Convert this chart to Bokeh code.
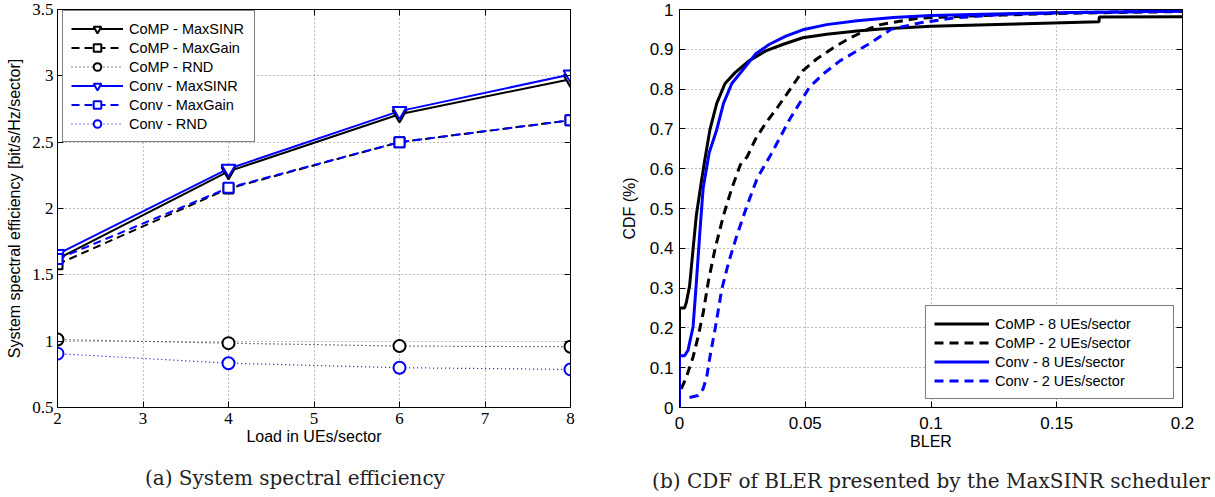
from bokeh.plotting import figure
from bokeh.layouts import row
from bokeh.models import FixedTicker, CustomJSTickFormatter, LinearAxis
from bokeh.embed import file_html
from bokeh.resources import INLINE

# ---------------- data: (a) system spectral efficiency ----------------
loads = [2, 4, 6, 8]
comp_maxsinr = [1.62, 2.28, 2.71, 2.975]
comp_maxgain = [1.58, 2.15, 2.50, 2.665]
comp_rnd = [1.012, 0.985, 0.963, 0.958]
conv_maxsinr = [1.656, 2.30, 2.734, 3.01]
conv_maxgain = [1.619, 2.156, 2.50, 2.665]
conv_rnd = [0.906, 0.834, 0.80, 0.787]
left_xticks = [2, 3, 4, 5, 6, 7, 8]
left_yticks = [0.5, 1, 1.5, 2, 2.5, 3, 3.5]

# ---------------- data: (b) CDF of BLER ----------------
comp8_bler = [0, 0, 0.002, 0.0027, 0.004, 0.0054, 0.0067, 0.0087, 0.0101, 0.0121, 0.0148,
              0.0181, 0.0222, 0.0276, 0.0343, 0.041, 0.049, 0.0585, 0.0706, 0.08, 0.1, 0.13,
              0.1668, 0.1669, 0.2]
comp8_cdf = [0, 0.25, 0.25, 0.263, 0.305, 0.398, 0.483, 0.568, 0.624, 0.698, 0.764,
             0.814, 0.842, 0.871, 0.896, 0.912, 0.929, 0.938, 0.946, 0.951, 0.958, 0.963,
             0.969, 0.981, 0.982]
comp2_bler = [0.0007, 0.0027, 0.0054, 0.0074, 0.0094, 0.0114, 0.0141, 0.0175, 0.0208, 0.0242,
              0.0269, 0.0302, 0.0343, 0.0383, 0.0437, 0.049, 0.0544, 0.0612, 0.0679, 0.076,
              0.0799, 0.0947, 0.1122, 0.1283, 0.15, 0.2]
comp2_cdf = [0.047, 0.076, 0.127, 0.178, 0.237, 0.314, 0.398, 0.483, 0.551, 0.61,
             0.63, 0.674, 0.715, 0.748, 0.797, 0.846, 0.875, 0.904, 0.929, 0.953,
             0.962, 0.978, 0.983, 0.986, 0.99, 0.995]
conv8_bler = [0, 0, 0.002, 0.0034, 0.0054, 0.0067, 0.0081, 0.0094, 0.0118, 0.0148, 0.0175,
              0.0208, 0.0249, 0.0302, 0.0356, 0.0423, 0.049, 0.0585, 0.0706, 0.085, 0.1,
              0.125, 0.15, 0.2]
conv8_cdf = [0, 0.13, 0.13, 0.144, 0.203, 0.314, 0.441, 0.551, 0.64, 0.698, 0.764,
             0.814, 0.846, 0.888, 0.912, 0.933, 0.949, 0.962, 0.972, 0.98, 0.985,
             0.989, 0.992, 0.996]
conv2_bler = [0.004, 0.0074, 0.0094, 0.0108, 0.0121, 0.0141, 0.0168, 0.0195, 0.0228, 0.0269,
              0.0309, 0.0363, 0.0396, 0.0437, 0.0477, 0.0517, 0.0571, 0.0638, 0.0706, 0.076,
              0.084, 0.0961, 0.1096, 0.1297, 0.1525, 0.2]
conv2_cdf = [0.025, 0.03, 0.047, 0.076, 0.127, 0.195, 0.297, 0.364, 0.432, 0.508,
             0.576, 0.635, 0.674, 0.723, 0.764, 0.805, 0.838, 0.871, 0.896, 0.916,
             0.95, 0.967, 0.979, 0.988, 0.992, 0.996]
right_xticks = [0, 0.05, 0.1, 0.15, 0.2]
right_yticks = [0, 0.1, 0.2, 0.3, 0.4, 0.5, 0.6, 0.7, 0.8, 0.9, 1]

caption_a = "(a) System spectral efficiency"
caption_b = "(b) CDF of BLER presented by the MaxSINR scheduler"

BLUE = "#0000ff"
BLACK = "#000000"
SANS = "Liberation Sans"
SERIF = "Liberation Serif"
NBSP = "\u00a0"


def style(p, xt, yt, tick_font, tick_size, xlabel, ylabel, xstand, ystand, ylab_stand):
    fmt = CustomJSTickFormatter(code="return tick.toString()")
    blank = CustomJSTickFormatter(code="return ''")
    xa = p.below[0]
    ya = p.left[0]
    xa.ticker = FixedTicker(ticks=xt)
    ya.ticker = FixedTicker(ticks=yt)
    xa.formatter = fmt
    ya.formatter = fmt
    xa.axis_label = xlabel
    ya.axis_label = ylabel
    xa.major_label_standoff = xstand
    ya.major_label_standoff = ystand
    xa.axis_label_standoff = 1
    ya.axis_label_standoff = ylab_stand
    p.add_layout(LinearAxis(ticker=FixedTicker(ticks=yt), formatter=blank,
                            major_label_standoff=0), "right")
    p.add_layout(LinearAxis(ticker=FixedTicker(ticks=xt), formatter=blank,
                            major_label_standoff=0), "above")
    for ax in [xa, ya, p.right[0], p.above[0]]:
        ax.major_tick_in = 6
        ax.major_tick_out = 0
        ax.minor_tick_in = 0
        ax.minor_tick_out = 0
        ax.minor_tick_line_color = None
        ax.axis_line_color = BLACK
        ax.major_tick_line_color = BLACK
        ax.major_label_text_font = tick_font
        ax.major_label_text_font_size = tick_size
        ax.major_label_text_color = BLACK
        ax.axis_label_text_font = SANS
        ax.axis_label_text_font_style = "normal"
        ax.axis_label_text_font_size = "16px"
        ax.axis_label_text_color = BLACK
    p.grid.grid_line_color = "#555555"
    p.grid.grid_line_dash = "1 3"
    p.grid.grid_line_alpha = 0.8
    p.outline_line_color = BLACK
    p.background_fill_color = "white"
    p.border_fill_color = "white"


def style_legend(lg, loc, glyph_w, row_h, lab_w):
    lg.location = loc
    lg.margin = 0
    lg.padding = 8
    lg.spacing = 0
    lg.glyph_width = glyph_w
    lg.glyph_height = row_h
    lg.label_height = row_h
    lg.label_width = lab_w
    lg.label_standoff = 6
    lg.label_text_font = SANS
    lg.label_text_font_size = "14.5px"
    lg.label_text_color = BLACK
    lg.border_line_color = BLACK
    lg.border_line_width = 1
    lg.background_fill_alpha = 1


def caption(p, text, standoff):
    # an extra, invisible axis below the x axis whose label carries the sub-figure caption
    ax = LinearAxis(ticker=FixedTicker(ticks=[]),
                    axis_line_color=None, major_tick_line_color=None,
                    minor_tick_line_color=None, major_tick_in=0, major_tick_out=0,
                    minor_tick_in=0, minor_tick_out=0, major_label_standoff=0,
                    major_label_text_font_size="1px",
                    axis_label=text, axis_label_standoff=standoff,
                    axis_label_text_font="DejaVu Serif", axis_label_text_font_size="20px",
                    axis_label_text_line_height=0.8,
                    axis_label_text_font_style="normal", axis_label_text_color="#222222")
    p.add_layout(ax, "below")


# ---------------- left figure ----------------
p1 = figure(width=600, height=497, x_range=(2, 8), y_range=(0.5, 3.5),
            output_backend="svg", toolbar_location=None,
            min_border_left=57, min_border_right=30, min_border_top=9, min_border_bottom=86)
style(p1, left_xticks, left_yticks, SERIF, "17px",
      "Load in UEs/sector", "System spectral efficiency [bit/s/Hz/sector]", 5, 4, 6)

series = [
    (comp_maxsinr, BLACK, "solid", "inverted_triangle", 14, 2, "CoMP - MaxSINR"),
    (comp_maxgain, BLACK, "8 5", "square", 10, 2, "CoMP - MaxGain"),
    (comp_rnd, BLACK, "1 3", "circle", 12, 1.2, "CoMP - RND"),
    (conv_maxsinr, BLUE, "solid", "inverted_triangle", 14, 2, "Conv - MaxSINR"),
    (conv_maxgain, BLUE, "8 5", "square", 10, 2, "Conv - MaxGain"),
    (conv_rnd, BLUE, "1 3", "circle", 12, 1.2, "Conv - RND"),
]
for ys, col, dash, mk, sz, lw, lab in series:
    p1.line(loads, ys, line_color=col, line_width=lw, line_dash=dash, legend_label=lab)
    p1.scatter(loads, ys, marker=mk, size=sz, line_color=col, line_width=2,
               fill_color="white", legend_label=lab)

style_legend(p1.legend[0], (5, 265), 52, 19, 117)
caption(p1, caption_a + NBSP * 6, 18)

# ---------------- right figure ----------------
p2 = figure(width=615, height=497, x_range=(0, 0.2), y_range=(0, 1),
            output_backend="svg", toolbar_location=None,
            min_border_left=79, min_border_right=33, min_border_top=7, min_border_bottom=90)
style(p2, right_xticks, right_yticks, SANS, "17px", "BLER", "CDF (%)", 9, 6, 9)

curves = [
    (comp8_bler, comp8_cdf, BLACK, "solid", "CoMP - 8 UEs/sector"),
    (comp2_bler, comp2_cdf, BLACK, "9 6", "CoMP - 2 UEs/sector"),
    (conv8_bler, conv8_cdf, BLUE, "solid", "Conv - 8 UEs/sector"),
    (conv2_bler, conv2_cdf, BLUE, "9 6", "Conv - 2 UEs/sector"),
]
for xs, ys, col, dash, lab in curves:
    p2.line(xs, ys, line_color=col, line_width=3, line_dash=dash, legend_label=lab)

style_legend(p2.legend[0], (246, 8), 55, 19, 170)
caption(p2, caption_b, 16)

layout = row(p1, p2)
open("out.html", "w").write(file_html(layout, INLINE))
